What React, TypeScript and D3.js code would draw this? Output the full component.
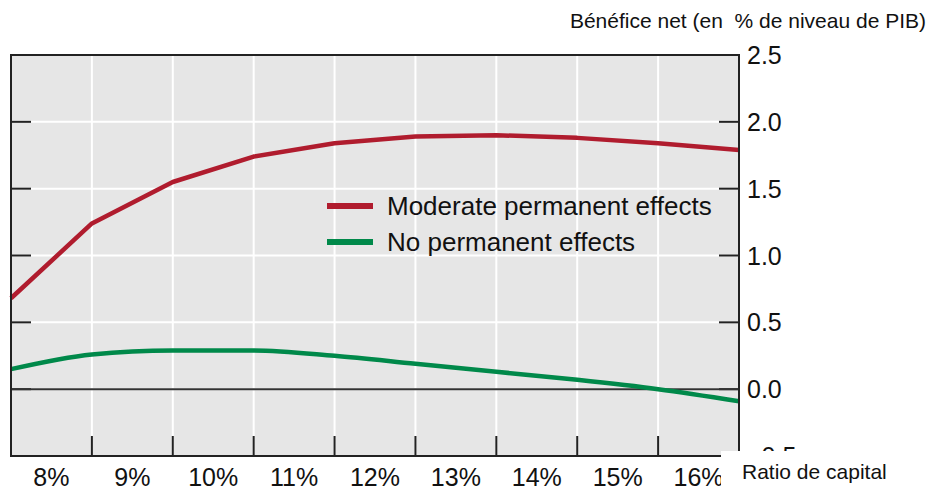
import React from 'react';
import * as d3 from 'd3';

// capital ratio (%) at which each point was computed
const capitalRatio = [7.5, 8.5, 9.5, 10.5, 11.5, 12.5, 13.5, 14.5, 15.5, 16.5];
const moderateEffects = [0.68, 1.24, 1.55, 1.74, 1.84, 1.89, 1.9, 1.88, 1.84, 1.79];
const noEffects = [0.15, 0.26, 0.29, 0.29, 0.25, 0.19, 0.13, 0.07, 0.0, -0.09];

const xTickValues = [8, 9, 10, 11, 12, 13, 14, 15, 16];
const xTickLabels = ['8%', '9%', '10%', '11%', '12%', '13%', '14%', '15%', '16%'];
const gridXValues = [8.5, 9.5, 10.5, 11.5, 12.5, 13.5, 14.5, 15.5];
const yTicks = [-0.5, 0, 0.5, 1, 1.5, 2, 2.5];

const seriesNames = ['Moderate permanent effects', 'No permanent effects'];
const seriesColors = ['#b01c2e', '#00894a'];

const W = 931,
  H = 491;
const left = 11,
  right = 739,
  top = 55,
  bottom = 456;

const font = 'Arial, "Liberation Sans", Helvetica, sans-serif';

export default function App() {
  const x = d3.scaleLinear().domain([7.5, 16.5]).range([left, right]);
  const y = d3.scaleLinear().domain([-0.5, 2.5]).range([bottom, top]);

  const redLine = d3
    .line<number>()
    .x((_, i) => x(capitalRatio[i]))
    .y(d => y(d))
    .curve(d3.curveLinear);

  const greenLine = d3
    .line<number>()
    .x((_, i) => x(capitalRatio[i]))
    .y(d => y(d))
    .curve(d3.curveMonotoneX);

  const paths = [redLine(moderateEffects), greenLine(noEffects)];

  return (
    <svg
      width={W}
      height={H}
      style={{ position: 'absolute', left: 0, top: 0, background: '#fff' }}
      fontFamily={font}
    >
      <rect x={left} y={top} width={right - left} height={bottom - top} fill="#e6e6e6" />

      {/* white grid */}
      {gridXValues.map(v => (
        <line key={'gx' + v} x1={x(v)} x2={x(v)} y1={top} y2={bottom} stroke="#fff" strokeWidth={2} />
      ))}
      {yTicks.map(v => (
        <line key={'gy' + v} x1={left} x2={right} y1={y(v)} y2={y(v)} stroke="#fff" strokeWidth={2} />
      ))}

      {/* tick marks */}
      {yTicks.map(v => (
        <g key={'ty' + v}>
          <line x1={left} x2={left + 20} y1={y(v)} y2={y(v)} stroke="#222" strokeWidth={2} />
          <line x1={right - 20} x2={right} y1={y(v)} y2={y(v)} stroke="#222" strokeWidth={2} />
        </g>
      ))}
      {gridXValues.map(v => (
        <line key={'tx' + v} x1={x(v)} x2={x(v)} y1={bottom - 20} y2={bottom} stroke="#222" strokeWidth={2} />
      ))}

      {/* zero line */}
      <line x1={left} x2={right} y1={y(0)} y2={y(0)} stroke="#333" strokeWidth={2} />

      {paths.map((d, i) => (
        <path
          key={i}
          d={d || ''}
          fill="none"
          stroke={seriesColors[i]}
          strokeWidth={4.5}
          strokeLinejoin="round"
        />
      ))}

      <rect x={left} y={top} width={right - left} height={bottom - top} fill="none" stroke="#222" strokeWidth={2} />

      {/* legend */}
      {seriesNames.map((n, i) => (
        <g key={n} transform={`translate(327,${206 + i * 36})`}>
          <line x1={0} x2={46} y1={0} y2={0} stroke={seriesColors[i]} strokeWidth={6} />
          <text x={60} y={0} dy="0.35em" fontSize={26} fill="#111">
            {n}
          </text>
        </g>
      ))}

      {/* right axis labels */}
      {yTicks.map(v => (
        <text key={'ly' + v} x={747} y={y(v)} dy="0.36em" fontSize={25} fill="#111">
          {d3.format('.1f')(v)}
        </text>
      ))}

      {/* x labels */}
      {xTickValues.map((v, i) => (
        <text key={'lx' + v} x={x(v)} y={486} textAnchor="middle" fontSize={25} fill="#111">
          {xTickLabels[i]}
        </text>
      ))}

      <rect x={721} y={451} width={210} height={40} fill="#fff" />
      <text x={742} y={479} fontSize={21} fill="#111">
        Ratio de capital
      </text>

      <text x={926} y={28} textAnchor="end" fontSize={21} fill="#111" style={{ whiteSpace: 'pre' }}>
        Bénéfice net (en  % de niveau de PIB)
      </text>
    </svg>
  );
}
